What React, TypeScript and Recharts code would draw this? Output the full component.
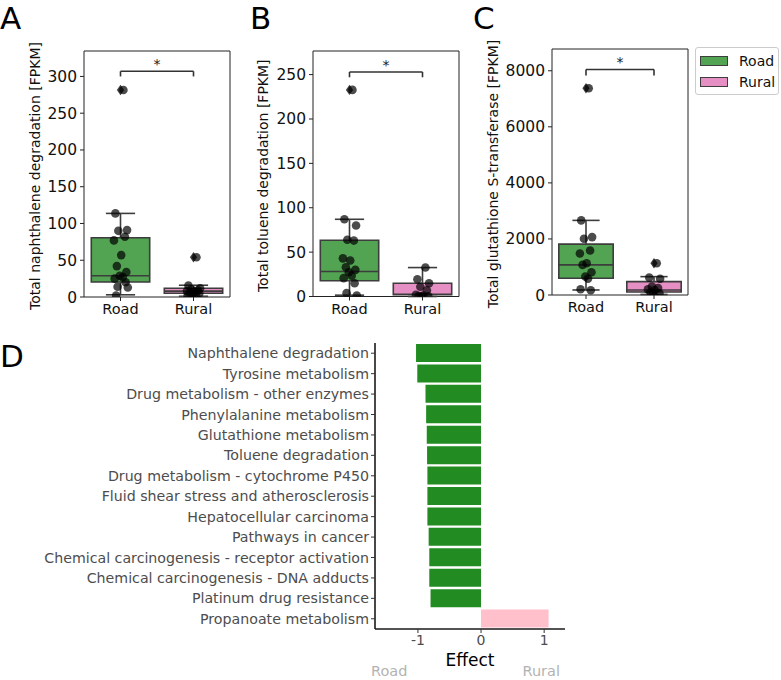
import React from 'react';
import {
  ComposedChart,
  BarChart,
  Bar,
  Cell,
  XAxis,
  YAxis,
  Scatter,
  ReferenceArea,
  ReferenceLine,
  ReferenceDot,
  Legend,
} from 'recharts';

const FONT = "'DejaVu Sans', 'Liberation Sans', sans-serif";

// ---- groups ----
const groups = ['Road', 'Rural'];
const groupColors = ['#52a352', '#e68fc5'];

// ---- panel A: naphthalene degradation [FPKM] ----
const naphRoad = [281.5, 113.7, 91, 90, 82, 77, 57, 42, 34, 29, 27, 25, 20, 14, 13, 2];
const naphRural = [54, 15.5, 12, 10, 9, 8, 7, 6, 5, 4, 3, 2];
// [lower whisker, Q1, median, Q3, upper whisker]
const naphRoadBox = [3, 20.4, 29, 80.6, 113.7];
const naphRuralBox = [1, 5, 8, 12, 16];
const naphRoadFliers = [281.5];
const naphRuralFliers = [54];
const naphTicks = [0, 50, 100, 150, 200, 250, 300];

// ---- panel B: toluene degradation [FPKM] ----
const tolRoad = [232.8, 87, 80, 64, 63, 43, 40.5, 33, 30, 27.4, 23.3, 20.7, 15, 3.8, 1];
const tolRural = [32.6, 19.5, 15, 11, 7, 2, 1, 0.5, 0.3, 0];
const tolRoadBox = [1.5, 17.7, 28.1, 63.4, 87];
const tolRuralBox = [0, 1.9, 2.5, 15, 32.6];
const tolRoadFliers = [232.8];
const tolRuralFliers: number[] = [];
const tolTicks = [0, 50, 100, 150, 200, 250];

// ---- panel C: glutathione S-transferase [FPKM] ----
const gstRoad = [7378, 2662, 2066, 2007, 1587, 1480, 1135, 1074, 813, 657, 585, 204, 169];
const gstRural = [1135, 620, 580, 300, 250, 200, 180, 100, 60, 30];
const gstRoadBox = [179, 597, 1074, 1815, 2662];
const gstRuralBox = [20, 107, 179, 476, 655];
const gstRoadFliers = [7378];
const gstRuralFliers = [1135];
const gstTicks = [0, 2000, 4000, 6000, 8000];

// ---- panel D: pathway effects ----
const pathways = [
  'Naphthalene degradation',
  'Tyrosine metabolism',
  'Drug metabolism - other enzymes',
  'Phenylalanine metabolism',
  'Glutathione metabolism',
  'Toluene degradation',
  'Drug metabolism - cytochrome P450',
  'Fluid shear stress and atherosclerosis',
  'Hepatocellular carcinoma',
  'Pathways in cancer',
  'Chemical carcinogenesis - receptor activation',
  'Chemical carcinogenesis - DNA adducts',
  'Platinum drug resistance',
  'Propanoate metabolism',
];
const effects = [-1.03, -1.01, -0.88, -0.87, -0.86, -0.855, -0.85, -0.85, -0.85, -0.83, -0.82, -0.82, -0.8, 1.07];
const effectTicks = [-1, 0, 1];
const effectColors = { Road: '#228B22', Rural: '#FFC0CB' };

// horizontal strip jitter pattern (category units)
const JITTER = [0.04, -0.07, 0.09, -0.03, 0.06, -0.09, 0.01, -0.05, 0.08, -0.01, 0.03, -0.08, 0.07, -0.04, 0.1, -0.06, 0.02, 0.05];

const CHART_H = 330;
const EDGE = '#3d3d3d';

type BoxSet = { values: number[]; stats: number[]; fliers: number[] };

interface PanelSpec {
  letter: string;
  title: string;
  sets: BoxSet[];
  yMax: number;
  yTicks: number[];
  bracket: [number, number];
  left: number;
  width: number;
  plotTop: number;
  plotBottom: number;
  yAxisWidth: number;
  marginRight: number;
  titleDx: number;
  letterDx: number;
  withLegend?: boolean;
}

const panels: PanelSpec[] = [
  {
    letter: 'A',
    title: 'Total naphthalene degradation [FPKM]',
    sets: [
      { values: naphRoad, stats: naphRoadBox, fliers: naphRoadFliers },
      { values: naphRural, stats: naphRuralBox, fliers: naphRuralFliers },
    ],
    yMax: 334.6,
    yTicks: naphTicks,
    bracket: [300, 307],
    left: 0,
    width: 240,
    plotTop: 51,
    plotBottom: 297,
    yAxisWidth: 84,
    marginRight: 10,
    titleDx: 35,
    letterDx: 0,
  },
  {
    letter: 'B',
    title: 'Total toluene degradation [FPKM]',
    sets: [
      { values: tolRoad, stats: tolRoadBox, fliers: tolRoadFliers },
      { values: tolRural, stats: tolRuralBox, fliers: tolRuralFliers },
    ],
    yMax: 276.6,
    yTicks: tolTicks,
    bracket: [247, 253],
    left: 240,
    width: 228,
    plotTop: 51,
    plotBottom: 296.5,
    yAxisWidth: 73,
    marginRight: 9,
    titleDx: 23,
    letterDx: 10,
  },
  {
    letter: 'C',
    title: 'Total glutathione S-transferase [FPKM]',
    sets: [
      { values: gstRoad, stats: gstRoadBox, fliers: gstRoadFliers },
      { values: gstRural, stats: gstRuralBox, fliers: gstRuralFliers },
    ],
    yMax: 8776,
    yTicks: gstTicks,
    bracket: [7830, 8046],
    left: 468,
    width: 313,
    plotTop: 49,
    plotBottom: 295,
    yAxisWidth: 84,
    marginRight: 93,
    titleDx: 25,
    letterDx: 5,
    withLegend: true,
  },
];

// rotated axis title plus the panel letter above it
const SideTitle = (props: any) => {
  const { viewBox, text, letter, dx, letterDx, letterTop } = props;
  const { x, y, height } = viewBox;
  const cx = x + dx;
  const cy = y + height / 2 + 2;
  return (
    <g fontFamily={FONT}>
      {text ? (
        <text
          x={cx}
          y={cy}
          transform={`rotate(-90, ${cx}, ${cy})`}
          textAnchor="middle"
          dominantBaseline="central"
          fontSize={14}
          fill="#111"
        >
          {text}
        </text>
      ) : null}
      <text x={x + letterDx} y={letterTop != null ? y + letterTop : 28.5} fontSize={31} fill="#000">
        {letter}
      </text>
    </g>
  );
};

// significance marker drawn above the bracket
const StarMark = (props: any) => {
  const { viewBox } = props;
  if (!viewBox) return null;
  const x = viewBox.x + (viewBox.width || 0) / 2;
  const y = viewBox.y - 2;
  return (
    <text x={x} y={y} textAnchor="middle" fontSize={14} fill="#1a1a1a" fontFamily={FONT}>
      *
    </text>
  );
};

const StripDot = (props: any) => {
  const { cx, cy } = props;
  if (cx == null || cy == null) return null;
  return <circle cx={cx} cy={cy} r={4.3} fill="#000" fillOpacity={0.7} />;
};

const FlierDiamond = (props: any) => {
  const { cx, cy } = props;
  if (cx == null || cy == null) return null;
  const w = 3.6;
  const h = 5.2;
  return (
    <polygon
      points={`${cx},${cy - h} ${cx + w},${cy} ${cx},${cy + h} ${cx - w},${cy}`}
      fill={EDGE}
    />
  );
};

const LegendBox = () => (
  <div
    style={{
      border: '1px solid #cccccc',
      borderRadius: 3,
      padding: '3px 3px 2px 4px',
      background: '#fff',
      fontFamily: FONT,
      fontSize: 14,
      lineHeight: '20.5px',
      color: '#111',
      whiteSpace: 'nowrap',
    }}
  >
    {groups.map((g, i) => (
      <div key={g} style={{ display: 'flex', alignItems: 'center' }}>
        <span
          style={{
            display: 'inline-block',
            width: 26,
            height: 8,
            background: groupColors[i],
            border: `1px solid ${EDGE}`,
            marginRight: 11,
          }}
        />
        {g}
      </div>
    ))}
  </div>
);

function BoxPanel({ spec }: { spec: PanelSpec }) {
  const points = spec.sets.flatMap((s, g) =>
    s.values.map((v, i) => ({ x: g + JITTER[i % JITTER.length], y: v })),
  );
  const fliers = spec.sets.flatMap((s, g) => s.fliers.map((v) => ({ x: g, y: v })));

  const boxParts: React.ReactElement[] = [];
  spec.sets.forEach((s, g) => {
    const [lo, q1, med, q3, hi] = s.stats;
    const line = { stroke: EDGE, strokeWidth: 1.6, ifOverflow: 'visible' as const };
    boxParts.push(
      <ReferenceLine key={`wl${g}`} segment={[{ x: g, y: lo }, { x: g, y: q1 }]} {...line} />,
      <ReferenceLine key={`wh${g}`} segment={[{ x: g, y: q3 }, { x: g, y: hi }]} {...line} />,
      <ReferenceLine key={`cl${g}`} segment={[{ x: g - 0.2, y: lo }, { x: g + 0.2, y: lo }]} {...line} />,
      <ReferenceLine key={`ch${g}`} segment={[{ x: g - 0.2, y: hi }, { x: g + 0.2, y: hi }]} {...line} />,
      <ReferenceArea
        key={`bx${g}`}
        x1={g - 0.4}
        x2={g + 0.4}
        y1={q1}
        y2={q3}
        fill={groupColors[g]}
        fillOpacity={1}
        stroke={EDGE}
        strokeWidth={1.6}
        ifOverflow="visible"
      />,
      <ReferenceLine key={`md${g}`} segment={[{ x: g - 0.4, y: med }, { x: g + 0.4, y: med }]} {...line} />,
    );
  });

  const [drop, top] = spec.bracket;
  const br = { stroke: '#333', strokeWidth: 1.6, ifOverflow: 'visible' as const };

  return (
    <div style={{ position: 'absolute', left: spec.left, top: 0 }}>
      <ComposedChart
        width={spec.width}
        height={CHART_H}
        margin={{ top: spec.plotTop, right: spec.marginRight, bottom: 0, left: 0 }}
      >
        <XAxis
          type="number"
          dataKey="x"
          domain={[-0.5, 1.5]}
          ticks={[0, 1]}
          interval={0}
          allowDataOverflow
          tickFormatter={(v: number) => groups[v] ?? ''}
          height={CHART_H - spec.plotBottom}
          axisLine={false}
          tickSize={4}
          tickMargin={3}
          tickLine={{ stroke: '#222' }}
          tick={{ fontSize: 14.5, fill: '#111', fontFamily: FONT }}
        />
        <YAxis
          type="number"
          dataKey="y"
          domain={[0, spec.yMax]}
          ticks={spec.yTicks}
          interval={0}
          allowDataOverflow
          width={spec.yAxisWidth}
          axisLine={false}
          tickSize={4}
          tickMargin={3}
          tickLine={{ stroke: '#222' }}
          tick={{ fontSize: 15.5, fill: '#111', fontFamily: FONT }}
          label={<SideTitle text={spec.title} letter={spec.letter} dx={spec.titleDx} letterDx={spec.letterDx} />}
        />
        <ReferenceArea
          x1={-0.5}
          x2={1.5}
          y1={0}
          y2={spec.yMax}
          fill="none"
          stroke="#222"
          strokeWidth={1}
          ifOverflow="visible"
        />
        {boxParts}
        <ReferenceLine segment={[{ x: 0, y: drop }, { x: 0, y: top }]} {...br} />
        <ReferenceLine segment={[{ x: 0, y: top }, { x: 1, y: top }]} {...br} />
        <ReferenceLine segment={[{ x: 1, y: top }, { x: 1, y: drop }]} {...br} />
        <ReferenceDot
          x={0.5}
          y={top}
          r={0}
          fill="none"
          stroke="none"
          ifOverflow="visible"
          label={<StarMark />}
        />
        <Scatter data={fliers} shape={<FlierDiamond />} isAnimationActive={false} legendType="none" />
        <Scatter data={points} shape={<StripDot />} isAnimationActive={false} legendType="none" />
        {spec.withLegend ? (
          <Legend
            layout="vertical"
            align="center"
            verticalAlign="middle"
            content={<LegendBox />}
            wrapperStyle={{ left: 227, top: 47, width: 'auto', height: 'auto' }}
          />
        ) : null}
      </ComposedChart>
    </div>
  );
}

// axis title and direction captions under the effect axis
const EffectTitle = (props: any) => {
  const { viewBox } = props;
  const { x, y, width } = viewBox;
  return (
    <g fontFamily={FONT}>
      <text x={x + width / 2} y={y + 37} textAnchor="middle" fontSize={17} fill="#000">
        Effect
      </text>
      <text x={x - 4} y={y + 47} textAnchor="start" fontSize={14.5} fill="#b3b3b3">
        Road
      </text>
      <text x={x + width - 5} y={y + 47} textAnchor="end" fontSize={14.5} fill="#b3b3b3">
        Rural
      </text>
    </g>
  );
};

const effectRows = pathways.map((p, i) => ({ pathway: p, effect: effects[i] }));

function EffectPanel() {
  return (
    <div style={{ position: 'absolute', left: 0, top: 330 }}>
      <BarChart
        layout="vertical"
        width={600}
        height={350}
        data={effectRows}
        margin={{ top: 13, right: 35, bottom: 0, left: 0 }}
        barSize={18}
      >
        <XAxis
          type="number"
          domain={[-1.68, 1.33]}
          ticks={effectTicks}
          interval={0}
          allowDataOverflow
          height={51}
          axisLine={{ stroke: '#1a1a1a', strokeWidth: 1.6 }}
          tickLine={{ stroke: '#333' }}
          tickSize={4}
          tickMargin={2}
          tick={{ fontSize: 14, fill: '#4d4d4d', fontFamily: FONT }}
          label={<EffectTitle />}
        />
        <YAxis
          type="category"
          dataKey="pathway"
          width={375}
          interval={0}
          axisLine={{ stroke: '#1a1a1a', strokeWidth: 1.6 }}
          tickLine={{ stroke: '#333' }}
          tickSize={4}
          tickMargin={2}
          tick={{ fontSize: 14.2, fill: '#4d4d4d', fontFamily: FONT }}
          label={<SideTitle text="" letter="D" dx={0} letterDx={0} letterTop={24} />}
        />
        <Bar dataKey="effect" isAnimationActive={false}>
          {effectRows.map((r) => (
            <Cell key={r.pathway} fill={r.effect < 0 ? effectColors.Road : effectColors.Rural} />
          ))}
        </Bar>
      </BarChart>
    </div>
  );
}

export default function App() {
  return (
    <div
      style={{
        position: 'absolute',
        left: 0,
        top: 0,
        width: 781,
        height: 680,
        background: '#fff',
        fontFamily: FONT,
        overflow: 'hidden',
      }}
    >
      {panels.map((p) => (
        <BoxPanel key={p.letter} spec={p} />
      ))}
      <EffectPanel />
    </div>
  );
}
